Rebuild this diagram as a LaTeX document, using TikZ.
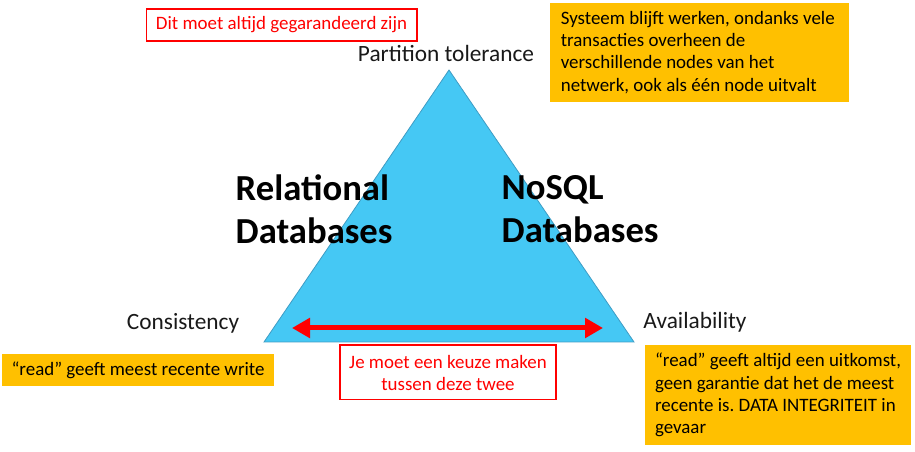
\documentclass[tikz,border=0pt]{standalone}
\usepackage{fontspec}
\setmainfont{Carlito}
\usetikzlibrary{arrows.meta}
\hyphenpenalty=10000
\exhyphenpenalty=10000
\frenchspacing
\definecolor{triblue}{HTML}{45C8F4}
\definecolor{triedge}{HTML}{3E9CC4}
\definecolor{notered}{HTML}{FF0000}
\definecolor{noteorange}{HTML}{FFC000}
\tikzstyle{tri} = [fill=triblue, draw=triedge, line width=0.6pt]
\tikzstyle{corner} = [font=\fontsize{17.5}{20}\selectfont, text=black!90]
\tikzstyle{dbname} = [anchor=west, align=left, font=\bfseries\fontsize{27.5}{32}\selectfont]
\tikzstyle{redbox} = [rectangle, draw=notered, line width=1pt, text=notered, align=center, font=\fontsize{14.2}{16.5}\selectfont]
\tikzstyle{orangebox} = [rectangle, fill=noteorange, align=flush left, font=\fontsize{14.2}{16.6}\selectfont]
\tikzstyle{arrow} = [line width=3.75pt, draw=notered, {Triangle[length=13.5pt,width=14.5pt]}-{Triangle[length=13.5pt,width=14.5pt]}]

\begin{document}
\begin{tikzpicture}[x=0.75pt, y=-0.75pt]
	\useasboundingbox (0,0) rectangle (915,452);
	
	\coordinate (top) at (449,70);
	\coordinate (bl) at (264,342);
	\coordinate (br) at (634,342);
	\draw[tri] (top) -- (bl) -- (br) -- cycle;
	
	\node (pt) [corner] at (446,53) {Partition tolerance};
	\node (con) [corner] at (183,323) {Consistency};
	\node (ava) [corner] at (695,322) {Availability};
	
	\node (rel) [dbname] at (231,209) {Relational\\Databases};
	\node (nosql) [dbname] at (497,209) {NoSQL\\Databases};
	
	\node (must) [redbox, minimum width=203pt, minimum height=24pt] at (281.5,25) {Dit moet altijd gegarandeerd zijn};
	\node (keuze) [redbox, minimum width=162pt, minimum height=41pt] at (448,372.5) {Je moet een keuze maken\\tussen deze twee};
	
	\node (ptnote) [orangebox, minimum width=224pt, minimum height=74pt, text width=208pt, inner xsep=8pt] at (699.5,52.5) {Systeem blijft werken, ondanks vele transacties overheen de verschillende nodes van het netwerk, ook als één node uitvalt};
	\node (connote) [orangebox, minimum width=204pt, minimum height=24pt] at (138,370) {“read” geeft meest recente write};
	\node (avanote) [orangebox, minimum width=199.5pt, minimum height=75pt, text width=184.5pt, inner xsep=7.5pt] at (778,395) {“read” geeft altijd een uitkomst, geen garantie dat het de meest recente is. DATA INTEGRITEIT in gevaar};
	
	\coordinate (al) at (292,328);
	\coordinate (ar) at (603,328);
	\draw[arrow] (al) -- (ar);
	
\end{tikzpicture}
\end{document}
